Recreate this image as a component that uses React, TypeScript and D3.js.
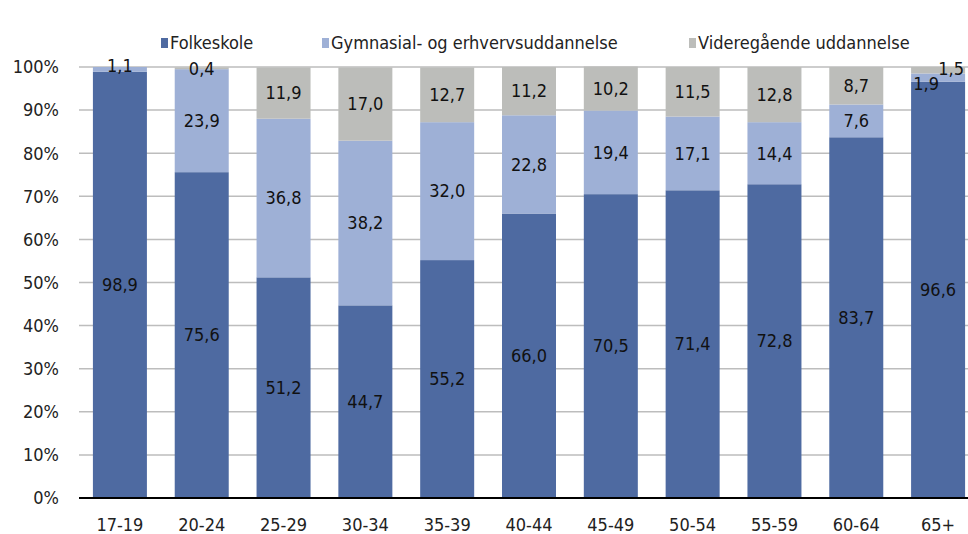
import React from "react";
import * as d3 from "d3";

const categories = ["17-19", "20-24", "25-29", "30-34", "35-39", "40-44", "45-49", "50-54", "55-59", "60-64", "65+"];
const folkeskole = [98.9, 75.6, 51.2, 44.7, 55.2, 66.0, 70.5, 71.4, 72.8, 83.7, 96.6];
const gymnasial = [1.1, 23.9, 36.8, 38.2, 32.0, 22.8, 19.4, 17.1, 14.4, 7.6, 1.9];
const videregaaende = [0, 0.4, 11.9, 17.0, 12.7, 11.2, 10.2, 11.5, 12.8, 8.7, 1.5];
const seriesNames = ["Folkeskole", "Gymnasial- og erhvervsuddannelse", "Videregående uddannelse"];
const yTicks = [0, 10, 20, 30, 40, 50, 60, 70, 80, 90, 100];

const colors = ["#4e6aa1", "#9eb0d6", "#bcbdba"];
const FONT = "'Liberation Sans Narrow', 'DejaVu Sans Condensed', sans-serif";

// manual label nudges (series index, category index) -> [dx, dy]
const labelNudge: Record<string, [number, number]> = {
  "1-0": [0, -4],
  "1-10": [-12, 6],
  "2-10": [13, -2],
};

export default function App() {
  const W = 968, H = 534;
  const x = d3.scaleBand<string>().domain(categories).range([79, 979]).paddingInner(0.34).paddingOuter(0.17);
  const y = d3.scaleLinear().domain([0, 100]).range([498, 67]);
  const data = categories.map((c, i) => ({ cat: c, f: folkeskole[i], g: gymnasial[i], v: videregaaende[i] }));
  const stack = d3.stack<any>().keys(["f", "g", "v"])(data);
  const fmt = (v: number) => v.toFixed(1).replace(".", ",");
  const legendX = [161, 322, 689];

  return (
    <svg width={W} height={H} style={{ position: "absolute", left: 0, top: 0, background: "#fff" }} fontFamily={FONT}>
      {yTicks.map((t) => (
        <g key={t}>
          {t > 0 && <line x1={79} x2={W} y1={y(t)} y2={y(t)} stroke="#bdbdbd" strokeWidth={1.5} />}
          <text x={59} y={y(t)} dy="0.35em" textAnchor="end" fontSize={18} fill="#222">{t}%</text>
        </g>
      ))}
      {stack.map((s, si) =>
        s.map((d, ci) => {
          const h = y(d[0]) - y(d[1]);
          if (h <= 0) return null;
          return (
            <rect key={`${si}-${ci}`} x={x(categories[ci])} width={x.bandwidth()} y={y(d[1])} height={h} fill={colors[si]} />
          );
        })
      )}
      <line x1={79} x2={W} y1={y(0)} y2={y(0)} stroke="#000" strokeWidth={2} />
      {stack.map((s, si) =>
        s.map((d, ci) => {
          const v = d[1] - d[0];
          if (v <= 0) return null;
          const nudge = labelNudge[`${si}-${ci}`] || [0, 0];
          return (
            <text key={`l${si}-${ci}`} x={(x(categories[ci]) as number) + x.bandwidth() / 2 + nudge[0]} y={y((d[0] + d[1]) / 2) + nudge[1]} dy="0.35em" textAnchor="middle" fontSize={18} fill="#111">
              {fmt(v)}
            </text>
          );
        })
      )}
      {categories.map((c) => (
        <text key={c} x={(x(c) as number) + x.bandwidth() / 2} y={525} dy="0.35em" textAnchor="middle" fontSize={18} fill="#222">{c}</text>
      ))}
      {seriesNames.map((n, i) => (
        <g key={n}>
          <rect x={legendX[i]} y={38} width={7} height={10} fill={colors[i]} />
          <text x={legendX[i] + 9} y={43} dy="0.35em" fontSize={18} fill="#222">{n}</text>
        </g>
      ))}
    </svg>
  );
}
